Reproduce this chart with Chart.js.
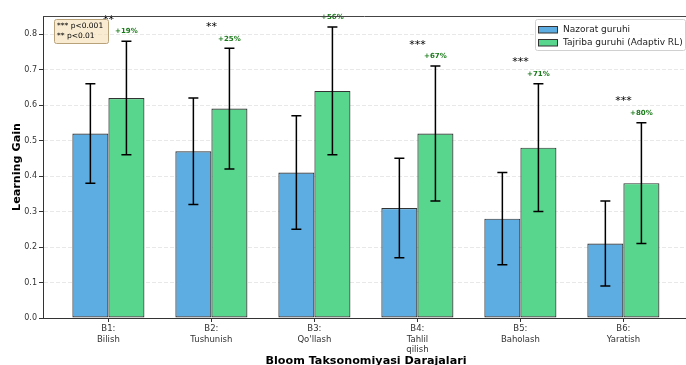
<!DOCTYPE html>
<html>
<head>
<meta charset="utf-8">
<script src="https://cdn.jsdelivr.net/npm/chart.js@4.4.1/dist/chart.umd.min.js"></script>
<style>
html,body{margin:0;padding:0;background:#fff;}
#wrap{width:686px;height:365px;position:relative;}
</style>
</head>
<body>
<div id="wrap"><canvas id="c" width="686" height="365"></canvas></div>
<script>
// ---- data ----
const categories = [['B1:','Bilish'],['B2:','Tushunish'],['B3:',"Qo'llash"],['B4:','Tahlil','qilish'],['B5:','Baholash'],['B6:','Yaratish']];
const seriesNames = ['Nazorat guruhi','Tajriba guruhi (Adaptiv RL)'];
const nazorat = [0.52,0.47,0.41,0.31,0.28,0.21];
const nazoratErr = [0.14,0.15,0.16,0.14,0.13,0.12];
const tajriba = [0.62,0.59,0.64,0.52,0.48,0.38];
const tajribaErr = [0.16,0.17,0.18,0.19,0.18,0.17];
const significance = ['**','**','','***','***','***'];
const improvement = ['+19%','+25%','+56%','+67%','+71%','+80%'];
const yTicks = [0,0.1,0.2,0.3,0.4,0.5,0.6,0.7,0.8];
const sigLegend = ['*** p<0.001','** p<0.01'];
const xTitle = 'Bloom Taksonomiyasi Darajalari';
const yTitle = 'Learning Gain';

const BLUE = '#5DADE2', GREEN = '#58D68D', EDGE = '#333333';
const FONT = "'DejaVu Sans', sans-serif";
const errs = [nazoratErr, tajribaErr];

const toXY = arr => arr.map((v,i)=>({x:i,y:v}));

const overlay = {
  id:'overlay',
  afterDatasetsDraw(chart){
    const ctx = chart.ctx, ys = chart.scales.y, xs = chart.scales.x;
    ctx.save();
    // error bars
    chart.data.datasets.forEach((ds,di)=>{
      const meta = chart.getDatasetMeta(di);
      meta.data.forEach((bar,j)=>{
        const v = ds.data[j].y, e = errs[di][j];
        const x = bar.x, y1 = ys.getPixelForValue(v+e), y2 = ys.getPixelForValue(v-e);
        ctx.strokeStyle = '#000'; ctx.lineWidth = 1.5;
        ctx.beginPath();
        ctx.moveTo(x,y1); ctx.lineTo(x,y2);
        ctx.moveTo(x-5,y1); ctx.lineTo(x+5,y1);
        ctx.moveTo(x-5,y2); ctx.lineTo(x+5,y2);
        ctx.stroke();
      });
    });
    // significance stars and improvement labels
    const gMeta = chart.getDatasetMeta(1);
    categories.forEach((c,j)=>{
      const top = Math.max(nazorat[j]+nazoratErr[j], tajriba[j]+tajribaErr[j]);
      ctx.textAlign='center'; ctx.textBaseline='bottom';
      if (significance[j]) {
        ctx.fillStyle='#000'; ctx.font = "11px "+FONT;
        ctx.fillText(significance[j], xs.getPixelForValue(j), ys.getPixelForValue(top+0.05)+2);
      }
      ctx.fillStyle='#1a7a1a'; ctx.font = "bold 7px "+FONT;
      ctx.fillText(improvement[j], gMeta.data[j].x, ys.getPixelForValue(tajriba[j]+tajribaErr[j]+0.02)+1);
    });
    ctx.restore();
  },
  afterDraw(chart){
    const ctx = chart.ctx, a = chart.chartArea;
    ctx.save();
    // top spine
    ctx.strokeStyle = '#444'; ctx.lineWidth = 1;
    ctx.beginPath(); ctx.moveTo(a.left, a.top+0.5); ctx.lineTo(a.right, a.top+0.5); ctx.stroke();
    // axis titles
    ctx.fillStyle = '#000';
    ctx.font = "bold 11.2px "+FONT;
    ctx.textAlign='center'; ctx.textBaseline='alphabetic';
    ctx.fillText(xTitle, 366, 364);
    ctx.save();
    ctx.translate(20, (a.top+a.bottom)/2);
    ctx.rotate(-Math.PI/2);
    ctx.fillText(yTitle, 0, 0);
    ctx.restore();
    // significance box
    ctx.fillStyle = 'rgba(245,222,179,0.6)';
    ctx.strokeStyle = '#b8a27a'; ctx.lineWidth = 1;
    roundRect(ctx, 54.5, 19.5, 54, 24, 2); ctx.fill(); ctx.stroke();
    ctx.fillStyle = '#000'; ctx.font = "7.5px "+FONT;
    ctx.textAlign='left'; ctx.textBaseline='middle';
    ctx.fillText(sigLegend[0], 57, 26.5);
    ctx.fillText(sigLegend[1], 57, 36);
    // legend
    ctx.fillStyle = 'rgba(255,255,255,0.85)';
    ctx.strokeStyle = '#d0d0d0';
    roundRect(ctx, 535.5, 19.5, 150, 31, 2); ctx.fill(); ctx.stroke();
    const cols = [BLUE, GREEN];
    seriesNames.forEach((n,i)=>{
      const yy = 26 + i*13;
      ctx.fillStyle = cols[i]; ctx.fillRect(538.5, yy+0.5, 19, 6.5);
      ctx.strokeStyle = EDGE; ctx.strokeRect(538.5, yy+0.5, 19, 6.5);
      ctx.fillStyle = '#222'; ctx.font = "9px "+FONT;
      ctx.textBaseline='middle';
      ctx.fillText(n, 563, yy+4);
    });
    ctx.restore();
  }
};
function roundRect(ctx,x,y,w,h,r){
  ctx.beginPath();
  ctx.moveTo(x+r,y); ctx.lineTo(x+w-r,y); ctx.quadraticCurveTo(x+w,y,x+w,y+r);
  ctx.lineTo(x+w,y+h-r); ctx.quadraticCurveTo(x+w,y+h,x+w-r,y+h);
  ctx.lineTo(x+r,y+h); ctx.quadraticCurveTo(x,y+h,x,y+h-r);
  ctx.lineTo(x,y+r); ctx.quadraticCurveTo(x,y,x+r,y); ctx.closePath();
}

new Chart(document.getElementById('c'), {
  type:'bar',
  data:{
    datasets:[
      {label:seriesNames[0], data:toXY(nazorat), backgroundColor:BLUE, borderColor:EDGE, borderWidth:1.2, borderSkipped:false},
      {label:seriesNames[1], data:toXY(tajriba), backgroundColor:GREEN, borderColor:EDGE, borderWidth:1.2, borderSkipped:false}
    ]
  },
  options:{
    responsive:false, animation:false, devicePixelRatio:1,
    categoryPercentage:0.7, barPercentage:1.0,
    layout:{padding:{top:16,right:0,left:0,bottom:0}},
    plugins:{legend:{display:false}, tooltip:{enabled:false}, title:{display:false}},
    scales:{
      x:{
        type:'linear', min:-0.635, max:5.608, offset:false,
        grid:{display:true, offset:false, drawOnChartArea:false, drawTicks:true, tickLength:4, tickColor:'#333', tickWidth:1},
        border:{display:true, color:'#333', width:1},
        afterBuildTicks(s){ s.ticks = categories.map((c,i)=>({value:i})); },
        afterFit(s){ s.height = 47; },
        ticks:{ autoSkip:false, maxRotation:0, padding:2, color:'#333',
          font:{family:FONT, size:8.5, lineHeight:1.2},
          callback:(v)=>categories[Math.round(v)] }
      },
      y:{
        min:0, max:0.851,
        grid:{display:true, color:'rgba(0,0,0,0.09)', lineWidth:1, tickLength:4, tickColor:'#333', tickBorderDash:[], drawTicks:true},
        border:{display:true, color:'#333', width:1, dash:[4,2]},
        afterBuildTicks(s){ s.ticks = yTicks.map(v=>({value:v})); },
        afterFit(s){ s.width = 43; },
        ticks:{ padding:2, color:'#333', font:{family:FONT, size:8}, callback:(v)=>Number(v).toFixed(1) }
      }
    }
  },
  plugins:[overlay]
});
</script>
</body>
</html>
